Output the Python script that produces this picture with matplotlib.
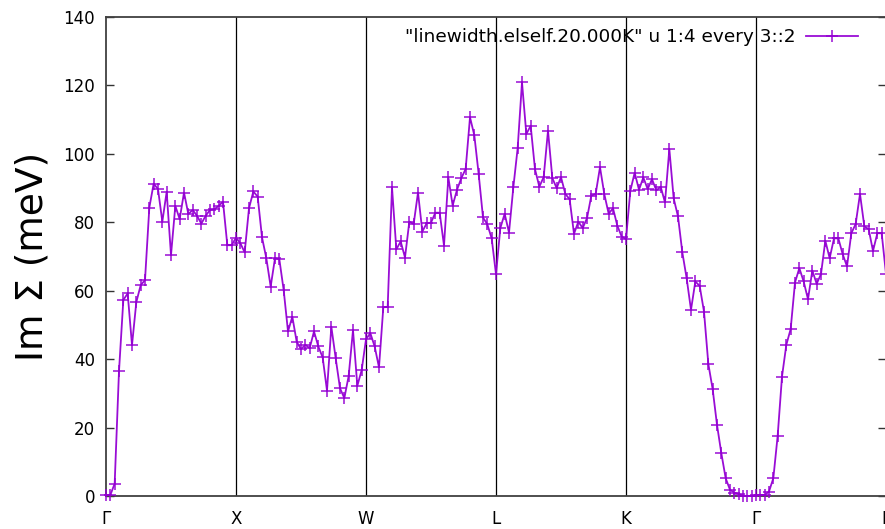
import numpy as np
import matplotlib
matplotlib.use("Agg")
import matplotlib.pyplot as plt

# High-symmetry path labels (equally spaced segments)
path_labels = ["Γ", "X", "W", "L", "K", "Γ", "L"]
points_per_segment = 30

# Im Sigma (meV) along the path, one value per plotted point (every 3::2)
seg_gamma_x = [0.2, 0.3, 3.6, 36.5, 57.3, 59.2, 44.1, 56.7, 61.6, 63.1, 84.3,
               91.3, 89.7, 80.2, 88.9, 70.4, 84.8, 80.9, 88.7, 82.4, 83.6,
               81.9, 79.6, 81.9, 83.6, 83.8, 84.8, 86.0, 73.3, 73.3]
seg_x_w = [75.5, 73.9, 71.2, 84.1, 89.0, 87.5, 75.6, 69.5, 61.2, 69.5,
           69.2, 60.2, 48.1, 52.4, 45.1, 42.9, 44.2, 43.2, 48.1, 43.7,
           40.5, 30.8, 49.5, 40.3, 31.5, 28.6, 35.1, 48.5, 32.2, 36.8]
seg_w_l = [45.8, 47.6, 43.7, 37.6, 55.2, 55.2, 90.2, 72.1, 74.4, 69.7,
           80.2, 79.5, 88.7, 77.3, 79.7, 79.9, 82.8, 82.8, 73.2, 93.1,
           84.9, 89.5, 92.9, 95.6, 110.7, 105.4, 94.1, 81.4, 79.4, 75.3]
seg_l_k = [64.8, 78.3, 82.5, 77.0, 90.2, 101.7, 120.9, 105.8, 108.2, 95.5,
           90.4, 93.2, 106.8, 92.9, 90.0, 93.2, 88.3, 86.7, 76.6, 80.2,
           78.3, 81.2, 87.8, 88.3, 96.1, 88.2, 82.5, 84.1, 79.0, 75.8]
seg_k_gamma = [75.1, 89.2, 94.5, 89.5, 93.1, 89.7, 92.6, 89.3, 90.4, 85.8,
               101.4, 87.0, 81.7, 71.2, 63.6, 54.4, 62.7, 61.4, 53.9, 38.6,
               31.2, 20.8, 12.5, 5.2, 1.8, 1.0, 0.6, 0.1, 0.0, 0.0]
seg_gamma_l = [0.3, 0.3, 0.3, 1.3, 5.2, 17.6, 34.9, 44.2, 48.8, 62.4,
               66.6, 62.7, 57.5, 65.9, 62.0, 64.9, 74.6, 69.5, 75.3, 75.3,
               70.7, 67.1, 76.8, 79.5, 88.3, 78.8, 78.0, 71.6, 76.8, 76.8,
               64.9]

im_sigma = np.array(seg_gamma_x + seg_x_w + seg_w_l + seg_l_k + seg_k_gamma + seg_gamma_l)
kpath = np.arange(len(im_sigma)) / points_per_segment

y_ticks = [0, 20, 40, 60, 80, 100, 120, 140]
legend_label = '"linewidth.elself.20.000K" u 1:4 every 3::2'

plt.rcParams['font.family'] = ['DejaVu Sans']

fig = plt.figure(figsize=(8.85, 5.29), dpi=100)
W, H = 885, 529
ax = fig.add_axes([106 / W, (H - 496) / H, 780 / W, 479 / H])

n_seg = len(path_labels) - 1
for i in range(1, n_seg):
    ax.axvline(i, color='black', lw=0.9, zorder=1)

ax.plot(kpath, im_sigma, color='#9400d3', lw=1.3, marker='+', ms=9, mew=1.1,
        clip_on=False, zorder=3, label=legend_label, alpha=0.95)

ax.set_xlim(0, n_seg)
ax.set_ylim(0, 140)
ax.set_xticks(range(len(path_labels)))
ax.set_xticklabels(path_labels)
ax.set_yticks(y_ticks)
ax.tick_params(axis='y', direction='in', length=5.5, width=1.0, right=True,
               labelsize=12, pad=8, color='#333333')
ax.tick_params(axis='x', length=0, labelsize=12, pad=10)
for s in ax.spines.values():
    s.set_color('#404040')
    s.set_linewidth(1.3)

ax.set_ylabel('Im Σ (meV)', fontsize=27)
ax.yaxis.set_label_coords((50 - 106) / 780, 0.5)

leg = ax.legend(loc='center right', bbox_to_anchor=((858 - 106) / 780, (496 - 37) / 479),
                frameon=False, markerfirst=False, handlelength=2.8,
                handletextpad=0.6, borderpad=0, borderaxespad=0,
                numpoints=1, fontsize=13.3)

fig.savefig('out.png', dpi=100)
